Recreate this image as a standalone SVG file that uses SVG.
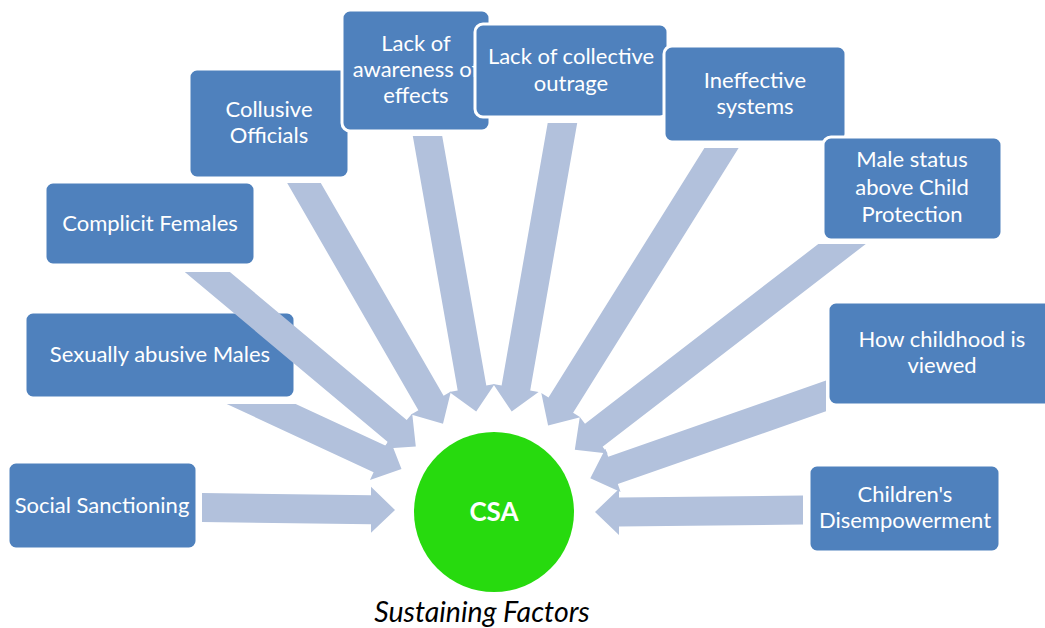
<svg xmlns="http://www.w3.org/2000/svg" width="1045" height="628" viewBox="0 0 1045 628">
<style>
.box{fill:#4F81BD;stroke:#FFFFFF;stroke-width:3}
.lbl{font-family:Lato,"Liberation Sans",sans-serif;font-size:22px;fill:#FFFFFF;text-anchor:middle}
.arr{fill:#B2C1DC}
</style>
<rect width="1045" height="628" fill="#FFFFFF"/>
<g id="n1"><rect class="box" x="8" y="462" width="189" height="87" rx="8"/><text class="lbl" x="102" y="513">Social Sanctioning</text></g>
<g id="n2"><rect class="box" x="25" y="312" width="270" height="86" rx="8"/><text class="lbl" x="160" y="362">Sexually abusive Males</text></g>
<g id="n3"><rect class="box" x="45" y="182" width="210" height="83" rx="8"/><text class="lbl" x="150" y="231">Complicit Females</text></g>
<g id="n4"><rect class="box" x="189" y="69" width="160" height="109" rx="8"/><text class="lbl" x="269" y="117">Collusive</text><text class="lbl" x="269" y="143">Officials</text></g>
<g id="n5"><rect class="box" x="342" y="10" width="148" height="121" rx="8"/><text class="lbl" x="416" y="51">Lack of</text><text class="lbl" x="416" y="77">awareness of</text><text class="lbl" x="416" y="103">effects</text></g>
<g id="n6"><rect class="box" x="475" y="24" width="193" height="93" rx="8"/><text class="lbl" x="571" y="64">Lack of collective</text><text class="lbl" x="571" y="91">outrage</text></g>
<g id="n7"><rect class="box" x="664" y="46" width="182" height="96" rx="8"/><text class="lbl" x="755" y="88">Ineffective</text><text class="lbl" x="755" y="114">systems</text></g>
<g id="n8"><rect class="box" x="823" y="137" width="179" height="103" rx="8"/><text class="lbl" x="912" y="167">Male status</text><text class="lbl" x="912" y="195">above Child</text><text class="lbl" x="912" y="222">Protection</text></g>
<g id="n9"><rect class="box" x="828" y="302" width="225" height="103" rx="8"/><text class="lbl" x="942" y="347">How childhood is</text><text class="lbl" x="942" y="373">viewed</text></g>
<g id="n10"><rect class="box" x="809" y="465" width="191" height="87" rx="8"/><text class="lbl" x="905" y="502">Children's</text><text class="lbl" x="905" y="528">Disempowerment</text></g>
<g id="connectors">
<polygon class="arr" points="202,493 371,495.2 371,486.7 395,510 371,532.7 371,524.2 202,522"/>
<polygon class="arr" points="226.7,404 373.6,472.2 370,479.9 401.5,469.1 389.4,438.1 385.8,445.8 295.7,404"/>
<polygon class="arr" points="184.8,272 388.1,442.2 382.6,448.7 415.8,446.5 412.2,413.5 406.7,420 229.9,272"/>
<polygon class="arr" points="287.2,183 418.4,410.2 411.1,414.4 443,423.7 450.9,391.4 443.6,395.7 320.8,183"/>
<polygon class="arr" points="412.8,136 457.7,390.4 449.3,391.9 476.2,411.5 494.7,383.9 486.3,385.4 442.2,136"/>
<polygon class="arr" points="547.7,123 501.6,385.4 493.2,383.9 511.7,411.5 538.6,391.9 530.2,390.4 577.2,123"/>
<polygon class="arr" points="704.4,148 548.5,397.4 541.3,392.9 548.1,425.5 580.3,417.3 573.1,412.8 738.6,148"/>
<polygon class="arr" points="818.3,244 585,423.7 579.8,417 574.8,449.8 607.8,453.4 602.6,446.7 865.8,244"/>
<polygon class="arr" points="826,380.6 608.2,456.7 605.4,448.7 590.3,478.3 620.6,492.1 617.8,484.1 826,411.3"/>
<polygon class="arr" points="803,495.5 619,497.5 619,489 595,512 619,535 619,526.5 803,524.5"/>
</g>
<g id="csa"><circle cx="494" cy="512" r="80" fill="#27DA0E"/><text x="494" y="521" font-family="Lato,'Liberation Sans',sans-serif" font-size="26" font-weight="bold" fill="#FFFFFF" text-anchor="middle">CSA</text></g>
<text id="caption" x="482" y="622" font-family="Lato,'Liberation Sans',sans-serif" font-size="28.5" font-style="italic" fill="#000000" text-anchor="middle">Sustaining Factors</text>
</svg>
